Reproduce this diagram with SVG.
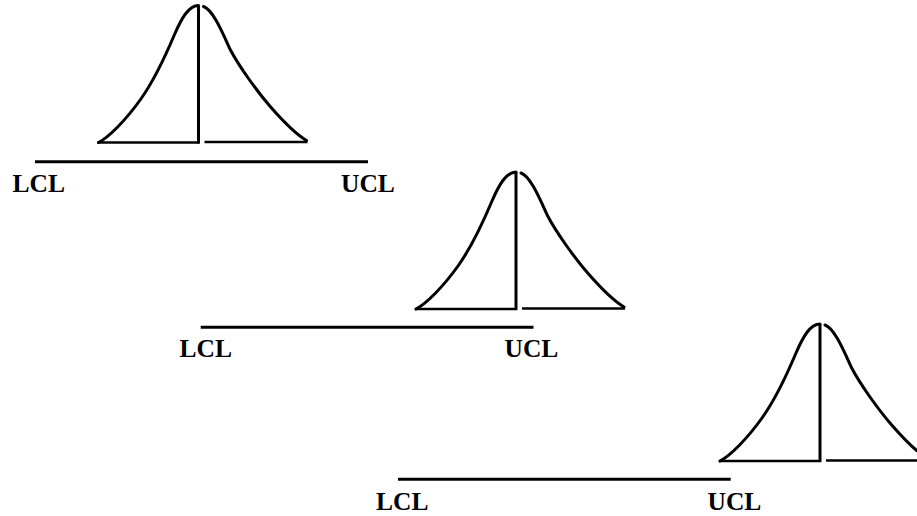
<svg xmlns="http://www.w3.org/2000/svg" width="917" height="516" viewBox="0 0 917 516">
<style>
.ln{stroke:#000;stroke-width:3;fill:none;stroke-linecap:butt}
.cv{stroke:#000;stroke-width:3;fill:none;stroke-linejoin:round;stroke-linecap:round}
.lb{font-family:"Liberation Serif","Times New Roman",serif;font-weight:bold;font-size:25.5px;fill:#000}
</style>
<defs>
<g id="bell">
<path class="cv" d="M -100 0 C -90 -5 -73 -22 -58 -43 C -43 -64 -32 -89 -24 -108 C -17 -124 -10 -137 0 -137"/>
<path class="cv" d="M 5 -136 C 14 -133 23 -112 31.7 -93 C 40.7 -76 58.6 -51 71.7 -36 C 84.8 -21 98 -8 108 -2"/>
<line class="ln" x1="0" y1="-137" x2="0" y2="1"/>
<line class="ln" x1="-101" y1="0" x2="1" y2="0" style="stroke-width:2.7"/>
<line class="ln" x1="6" y1="-0.5" x2="109" y2="-0.5" style="stroke-width:2.7"/>
</g>
</defs>
<rect width="917" height="516" fill="#fff"/>
<g id="chart1">
<use href="#bell" transform="translate(198.5,142.5)"/>
</g>
<g id="chart2">
<use href="#bell" transform="translate(516,309)"/>
</g>
<g id="chart3">
<use href="#bell" transform="translate(820,461)"/>
</g>
<g id="connectors">
<line class="ln" x1="35" y1="161.7" x2="368" y2="161.7"/>
<line class="ln" x1="200.7" y1="327.3" x2="533.5" y2="327.3"/>
<line class="ln" x1="398" y1="479.3" x2="730.7" y2="479.3"/>
</g>
<g id="labels">
<text class="lb" x="12.5" y="192">LCL</text>
<text class="lb" x="341" y="192">UCL</text>
<text class="lb" x="179.5" y="357">LCL</text>
<text class="lb" x="504.5" y="357">UCL</text>
<text class="lb" x="376" y="509.5">LCL</text>
<text class="lb" x="707.5" y="509.5">UCL</text>
</g>
</svg>
